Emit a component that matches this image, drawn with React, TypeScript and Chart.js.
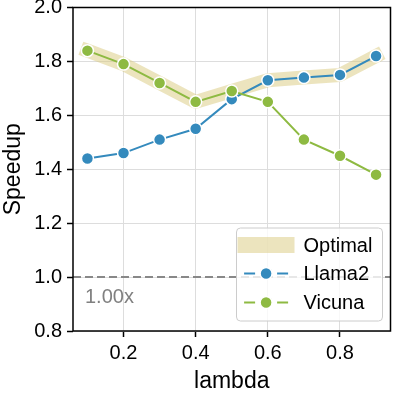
import React, { useEffect, useRef } from "react";
import { Chart, registerables } from "chart.js";

Chart.register(...registerables);

const lambdas = [0.1, 0.2, 0.3, 0.4, 0.5, 0.6, 0.7, 0.8, 0.9];
const llama2 = [1.44, 1.46, 1.51, 1.55, 1.66, 1.73, 1.74, 1.75, 1.82];
const vicuna = [1.84, 1.79, 1.72, 1.65, 1.69, 1.65, 1.51, 1.45, 1.38];
const optimal = [1.84, 1.79, 1.72, 1.65, 1.69, 1.73, 1.74, 1.75, 1.82];
const xTickValues = [0.2, 0.4, 0.6, 0.8];
const yTickValues = [0.8, 1.0, 1.2, 1.4, 1.6, 1.8, 2.0];
const baselineValue = 1.0;
const baselineLabel = "1.00x";
const seriesNames = ["Optimal", "Llama2", "Vicuna"];
const xTitle = "lambda";
const yTitle = "Speedup";

const FONT = "'Liberation Sans', Arial, Helvetica, sans-serif";
const BLUE = "#348ABD";
const GREEN = "#8EBA42";
const BAND = "rgba(217,201,125,0.5)";

export default function App() {
  const ref = useRef<HTMLCanvasElement | null>(null);

  useEffect(() => {
    document.body.style.margin = "0";
    const canvas = ref.current;
    if (!canvas) return;

    const pts = (ys: number[]) => lambdas.map((x, i) => ({ x, y: ys[i] }));

    const extras = {
      id: "extras",
      beforeDatasetsDraw(chart: any) {
        const { ctx, chartArea, scales } = chart;
        const y = scales.y.getPixelForValue(baselineValue);
        ctx.save();
        ctx.strokeStyle = "#888888";
        ctx.lineWidth = 2;
        ctx.setLineDash([8, 4]);
        ctx.beginPath();
        ctx.moveTo(chartArea.left, y);
        ctx.lineTo(chartArea.right, y);
        ctx.stroke();
        ctx.setLineDash([]);
        ctx.fillStyle = "#808080";
        ctx.font = `20px ${FONT}`;
        ctx.textBaseline = "middle";
        ctx.textAlign = "left";
        ctx.fillText(baselineLabel, chartArea.left + 12, y + 20);
        ctx.restore();
      },
      afterDraw(chart: any) {
        const { ctx, chartArea } = chart;
        ctx.save();
        ctx.strokeStyle = "#000";
        ctx.lineWidth = 1.5;
        ctx.strokeRect(chartArea.left, chartArea.top, chartArea.right - chartArea.left, chartArea.bottom - chartArea.top);
        const w = 146, h = 93;
        const left = chartArea.right - 8 - w;
        const top = chartArea.bottom - 10 - h;
        ctx.beginPath();
        (ctx as any).roundRect(left, top, w, h, 4);
        ctx.fillStyle = "rgba(255,255,255,0.8)";
        ctx.fill();
        ctx.strokeStyle = "#cccccc";
        ctx.lineWidth = 1;
        ctx.stroke();
        const rows = [top + 17, top + 45.5, top + 74.5];
        const hx = left + 29.6;
        ctx.fillStyle = BAND;
        ctx.fillRect(left + 1, rows[0] - 8, 57, 16);
        const colors = [BLUE, GREEN];
        for (let k = 0; k < 2; k++) {
          const ry = rows[k + 1];
          ctx.strokeStyle = colors[k];
          ctx.lineWidth = 2;
          ctx.beginPath();
          ctx.moveTo(hx - 22, ry);
          ctx.lineTo(hx - 11, ry);
          ctx.moveTo(hx + 11, ry);
          ctx.lineTo(hx + 22, ry);
          ctx.stroke();
          ctx.beginPath();
          ctx.arc(hx, ry, 6, 0, Math.PI * 2);
          ctx.fillStyle = colors[k];
          ctx.fill();
          ctx.strokeStyle = "#fff";
          ctx.lineWidth = 1.5;
          ctx.stroke();
        }
        ctx.fillStyle = "#000";
        ctx.font = `20px ${FONT}`;
        ctx.textBaseline = "middle";
        ctx.textAlign = "left";
        seriesNames.forEach((n, i) => ctx.fillText(n, left + 67, rows[i] + 1));
        ctx.restore();
      },
    };

    const chart = new Chart(canvas, {
      type: "line",
      data: {
        datasets: [
          {
            label: seriesNames[0],
            data: pts(optimal),
            borderColor: BAND,
            backgroundColor: BAND,
            borderWidth: 14,
            borderCapStyle: "square",
            borderJoinStyle: "round",
            pointRadius: 0,
            order: 3,
          },
          {
            label: seriesNames[1],
            data: pts(llama2),
            borderColor: BLUE,
            backgroundColor: BLUE,
            borderWidth: 2,
            pointRadius: 6,
            pointBorderColor: "#fff",
            pointBorderWidth: 1.5,
            pointBackgroundColor: BLUE,
            order: 2,
          },
          {
            label: seriesNames[2],
            data: pts(vicuna),
            borderColor: GREEN,
            backgroundColor: GREEN,
            borderWidth: 2,
            pointRadius: 6,
            pointBorderColor: "#fff",
            pointBorderWidth: 1.5,
            pointBackgroundColor: GREEN,
            order: 1,
          },
        ],
      },
      plugins: [extras],
      options: {
        animation: false,
        responsive: false,
        devicePixelRatio: 1,
        layout: { padding: { top: 7, right: 2, left: 0, bottom: 0 } },
        plugins: { legend: { display: false }, tooltip: { enabled: false } },
        scales: {
          x: {
            type: "linear",
            min: 0.06,
            max: 0.94,
            afterBuildTicks: (s: any) => {
              s.ticks = xTickValues.map((v) => ({ value: v }));
            },
            afterFit: (s: any) => {
              s.height = 64;
              s.paddingLeft = 0;
              s.paddingRight = 0;
            },
            ticks: {
              color: "#000",
              font: { family: FONT, size: 20 },
              padding: 4,
              maxRotation: 0,
              autoSkip: false,
              callback: (v: any) => Number(v).toFixed(1),
            },
            grid: { color: "#dddddd", lineWidth: 1, tickColor: "#000", tickLength: 6, tickWidth: 1.5 },
            border: { display: false },
            title: { display: true, text: xTitle, color: "#000", font: { family: FONT, size: 23 }, padding: 0 },
          },
          y: {
            min: 0.8,
            max: 2.0,
            afterBuildTicks: (s: any) => {
              s.ticks = yTickValues.map((v) => ({ value: v }));
            },
            afterFit: (s: any) => {
              s.width = 73;
              s.paddingTop = 0;
              s.paddingBottom = 0;
            },
            ticks: {
              color: "#000",
              font: { family: FONT, size: 20 },
              padding: 5,
              autoSkip: false,
              callback: (v: any) => Number(v).toFixed(1),
            },
            grid: { color: "#dddddd", lineWidth: 1, tickColor: "#000", tickLength: 6, tickWidth: 1.5 },
            border: { display: false },
            title: { display: true, text: yTitle, color: "#000", font: { family: FONT, size: 23 }, padding: 0 },
          },
        },
      },
    } as any);

    return () => chart.destroy();
  }, []);

  return <canvas ref={ref} width={398} height={395} style={{ display: "block", width: 398, height: 395 }} />;
}
